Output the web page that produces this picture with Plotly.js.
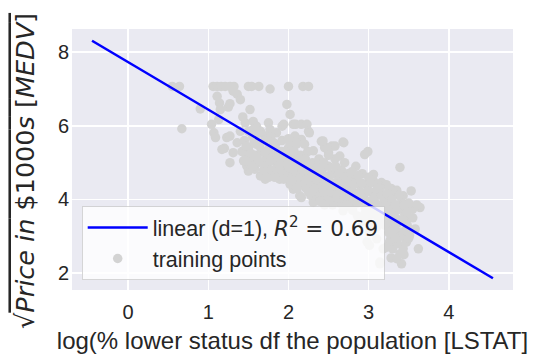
<!DOCTYPE html>
<html><head><meta charset="utf-8">
<script src="https://cdn.plot.ly/plotly-3.0.1.min.js"></script>
<style>html,body{margin:0;padding:0;background:#fff}#chart{width:539px;height:362px}</style>
</head><body><div id="chart"></div>
<script>
// training points: log(LSTAT) and sqrt(MEDV)
const logLstat = [
0.55,0.64,1.06,1.11,1.16,1.21,1.27,1.32,1.50,1.54,1.63,2.00,2.18,2.25,1.77,
0.90,0.67,1.11,1.14,1.25,1.31,1.36,1.40,1.27,1.52,1.43,1.98,2.02,1.04,1.07,1.09,1.20,1.17,1.27,1.23,1.27,1.15,1.13,
1.46,1.56,1.60,1.65,1.50,1.75,1.77,1.71,1.85,1.92,1.94,2.06,2.09,2.16,2.23,2.25,2.26,2.16,2.08,2.02,2.41,2.45,2.54,
2.58,2.68,2.69,2.50,2.64,2.95,2.99,2.31,2.48,2.43,
3.39,3.06,3.16,3.22,3.28,3.35,3.53,3.43,3.30,3.41,3.53,3.64,3.55,3.24,3.37,
1.50,1.65,1.71,1.89,1.80,2.06,2.14,2.02,2.16,2.31,2.48,2.68,2.81,1.54,1.48,1.31,1.36,1.58,
3.01,3.10,3.01,3.14,3.28,3.41,3.39,3.62,3.51,3.47,3.30,3.18,3.24,3.35,3.47,3.30,3.14,3.08,3.18,3.40,3.43,3.35,3.26,2.98,3.14,2.92,2.86,
1.40,1.45,1.50,1.55,1.58,1.60,1.62,1.48,1.52,1.56,1.63,1.66,
1.70,1.72,1.74,1.76,1.78,1.80,1.82,1.84,1.86,1.88,1.90,1.92,1.75,1.83,
1.95,1.97,2.00,2.02,2.04,2.06,2.08,2.10,2.12,2.14,2.00,2.15,1.98,2.05,
2.18,2.20,2.22,2.24,2.26,2.28,2.30,2.32,2.34,2.36,2.38,2.40,2.20,2.35,2.42,
2.45,2.47,2.50,2.52,2.54,2.56,2.58,2.60,2.62,2.64,2.50,2.55,2.66,2.60,
2.70,2.72,2.74,2.76,2.78,2.80,2.82,2.84,2.86,2.88,2.90,2.70,2.75,2.92,
2.95,2.97,3.00,3.02,3.04,3.06,3.08,3.10,3.12,3.14,3.00,3.05,3.15,
3.20,3.22,3.25,3.28,3.30,3.32,3.35,3.38,3.40,3.20,3.27,3.36,
3.45,3.48,3.50,3.55,3.58,3.44,3.50,3.60,
1.42,1.47,1.53,1.57,1.61,1.64,1.68,1.69,1.44,1.55,
1.71,1.73,1.77,1.79,1.81,1.85,1.87,1.89,1.91,1.93,1.96,1.99,1.81,1.94,
2.01,2.03,2.05,2.07,2.09,2.11,2.13,2.15,2.17,2.19,2.21,2.23,2.25,2.27,2.29,2.11,2.25,
2.31,2.33,2.35,2.37,2.39,2.41,2.43,2.44,2.46,2.49,2.51,2.53,2.57,2.59,2.61,2.63,2.39,2.45,
2.65,2.67,2.69,2.71,2.73,2.75,2.77,2.79,2.81,2.83,2.85,2.87,2.89,2.91,2.72,2.80,
2.93,2.96,2.99,3.01,3.03,3.05,3.07,3.09,3.11,3.13,3.16,3.18,3.00,3.10,2.95,
3.21,3.23,3.26,3.29,3.31,3.33,3.36,3.39,3.42,3.44,3.46,3.48,3.25,3.33,3.22
];
const sqrtMedv = [
7.07,7.07,7.07,7.07,7.07,7.07,7.07,7.07,7.07,7.07,7.07,7.07,7.07,7.07,7.00,
6.46,5.92,6.80,6.62,6.51,6.94,6.86,6.71,6.60,6.44,6.24,6.58,6.31,6.04,5.81,5.68,5.39,5.36,5.00,5.68,5.72,6.44,6.17,
6.08,6.12,5.99,5.85,5.85,6.08,5.90,5.72,5.81,5.99,6.04,6.04,6.04,6.04,6.04,5.85,5.81,5.63,5.72,5.54,5.58,5.41,5.45,
5.45,5.56,5.54,5.27,5.18,5.22,5.30,5.32,5.41,5.59,
4.87,4.68,4.46,4.40,4.30,4.25,4.23,4.10,4.19,3.93,3.80,3.78,3.74,3.96,3.83,
4.77,4.64,4.55,4.55,4.70,4.28,4.10,4.41,4.05,3.92,3.96,3.69,3.83,5.09,4.91,5.27,5.54,4.82,
3.11,2.93,2.75,2.25,2.41,2.25,2.52,2.66,3.02,2.84,2.66,2.66,3.29,3.47,3.47,3.11,3.38,3.69,3.74,3.11,2.66,2.39,2.84,2.85,2.30,3.40,3.55,
5.85,5.60,5.40,5.70,5.20,5.50,5.00,5.15,4.95,5.90,5.80,5.30,
5.60,5.10,4.85,5.40,5.70,5.20,4.70,5.50,5.00,5.30,4.80,5.60,4.60,4.60,
5.10,4.90,5.40,4.70,5.20,4.50,5.00,5.50,4.80,4.40,5.65,5.20,4.60,4.90,
5.00,4.60,4.30,5.30,4.80,4.10,5.00,4.50,4.70,4.20,5.10,4.40,5.50,4.00,4.80,
4.60,4.20,4.90,4.40,4.00,4.70,5.10,4.30,4.50,3.90,5.20,3.85,4.80,4.05,
4.40,4.10,4.70,3.80,4.30,4.60,4.00,4.90,3.90,4.40,4.20,5.00,3.95,4.70,
4.00,4.40,3.80,4.20,3.60,4.50,3.90,4.10,3.50,4.30,4.60,3.30,3.70,
4.00,3.60,4.30,3.40,3.90,3.20,3.70,4.10,3.00,3.30,2.90,2.80,
3.60,3.30,3.90,3.50,3.20,2.50,2.95,3.85,
5.30,5.45,5.25,5.55,5.15,5.45,5.00,4.80,5.05,4.90,
5.30,4.95,5.05,4.80,5.45,4.85,5.15,4.95,5.30,4.70,5.30,5.00,5.55,4.55,
4.85,5.05,4.60,5.30,4.75,4.95,5.10,4.60,4.80,4.40,5.10,4.55,4.95,4.35,4.70,4.30,4.20,
4.75,4.30,4.55,4.90,4.05,4.60,4.25,5.00,4.45,4.10,4.65,4.20,4.45,4.90,4.15,4.70,3.95,3.85,
4.25,4.50,4.00,4.60,4.25,4.50,4.05,4.75,4.20,4.45,4.15,4.65,3.95,4.45,3.85,3.70,
4.15,3.75,4.25,3.95,4.45,3.75,4.05,3.60,4.30,3.85,4.10,3.50,3.55,3.25,3.60,
3.85,4.15,3.70,4.00,3.55,3.85,3.35,3.75,3.45,3.85,3.15,3.65,3.10,2.95,2.70
];
// fitted linear model (d=1), endpoints
const fitX = [-0.45, 4.55];
const fitY = [8.31, 1.86];
const xTicks = [0, 1, 2, 3, 4];
const yTicks = [2, 4, 6, 8];

const data = [
  {type:'scatter', mode:'markers', x:logLstat, y:sqrtMedv, name:'training points',
   marker:{color:'#d3d3d3', size:9.5, line:{width:0}}, legendrank:2},
  {type:'scatter', mode:'lines', x:fitX, y:fitY,
   name:'linear (d=1), <span style="font-family:DejaVu Sans"><i>R</i><sup>2</sup> = 0.69</span>',
   line:{color:'#0000ff', width:2.5}, legendrank:1}
];
const layout = {
  width:539, height:362,
  margin:{l:72, r:26, t:29, b:72},
  paper_bgcolor:'#ffffff', plot_bgcolor:'#eaeaf2',
  font:{family:'Liberation Sans, Arial, sans-serif', color:'#262626', size:20},
  xaxis:{range:[-0.70, 4.80], tickvals:xTicks, ticktext:xTicks.map(String), showgrid:true, gridcolor:'#ffffff', gridwidth:1.5,
    zeroline:false, showline:false, ticks:'', ticklabelstandoff:8,
    title:{text:'log(% lower status df the population [LSTAT]', font:{size:24}, standoff:10}},
  yaxis:{range:[1.54, 8.63], tickvals:yTicks, ticktext:yTicks.map(String), showgrid:true, gridcolor:'#ffffff', gridwidth:1.5,
    zeroline:false, showline:false, ticks:'', ticklabelstandoff:2},
  showlegend:true,
  legend:{x:0.022, y:0.038, xanchor:'left', yanchor:'bottom', bgcolor:'rgba(255,255,255,0.8)',
    bordercolor:'rgba(204,204,204,0.8)', borderwidth:1, font:{size:21.5, color:'#262626'}, itemwidth:60},
  annotations:[{xref:'paper', yref:'paper', x:-0.105, y:0.455, xanchor:'center', yanchor:'middle', textangle:-90,
    showarrow:false, font:{family:'DejaVu Sans', size:25.5, color:'#262626'},
    text:'√<span style="text-decoration:overline"><i>Price in</i> $1000<i>s</i> [<i>MEDV</i>]</span>'}]
};
Plotly.newPlot('chart', data, layout, {staticPlot:true, displayModeBar:false});
</script></body></html>
